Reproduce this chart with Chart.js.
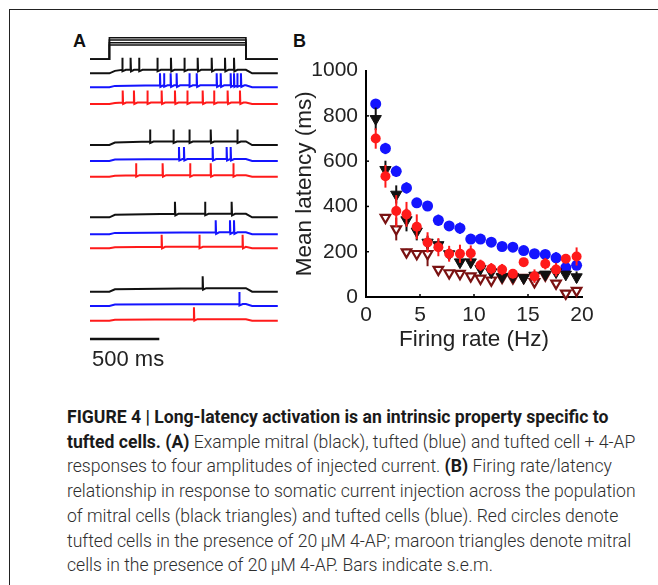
<!DOCTYPE html>
<html>
<head>
<meta charset="utf-8">
<script src="https://cdn.jsdelivr.net/npm/chart.js@4.4.1/dist/chart.umd.min.js"></script>
<style>
    html, body { margin: 0; padding: 0; background: #fff; }
    #fig { position: relative; width: 658px; height: 585px; overflow: hidden; font-family: "Liberation Sans", Arial, sans-serif; }
    .frame-top { position: absolute; left: 9px; top: 9px; right: 0; border-top: 1px solid #222; }
    .frame-left { position: absolute; left: 9px; top: 9px; bottom: 0; border-left: 1px solid #222; }
    .panel-label { position: absolute; font-weight: bold; font-size: 18px; line-height: 1; color: #111; }
    #traces { position: absolute; left: 85px; top: 30px; }
    #latency { position: absolute; left: 280px; top: 50px; }
    #scaleText { position: absolute; left: 92px; top: 348px; font-size: 22px; line-height: 1; color: #222; }
    #caption { position: absolute; left: 67px; top: 405px; font-family: Roboto, sans-serif; font-weight: 300; font-size: 17.6px; line-height: 24.7px; color: #2e2e2e; white-space: nowrap; }
    #caption b { font-weight: 700; color: #1a1a1a; }
</style>
</head>
<body>
<div id="fig">
    <div class="frame-top"></div>
    <div class="frame-left"></div>
    <div class="panel-label" style="left:73px;top:32px;">A</div>
    <div class="panel-label" style="left:293px;top:32px;">B</div>
    <canvas id="traces" width="200" height="320"></canvas>
    <div id="scaleText">500 ms</div>
    <canvas id="latency" width="330" height="310"></canvas>
    <div id="caption">
        <b>FIGURE 4 | Long-latency activation is an intrinsic property specific to</b><br>
        <b>tufted cells. (A)</b> Example mitral (black), tufted (blue) and tufted cell + 4-AP<br>
        responses to four amplitudes of injected current. <b>(B)</b> Firing rate/latency<br>
        relationship in response to somatic current injection across the population<br>
        of mitral cells (black triangles) and tufted cells (blue). Red circles denote<br>
        tufted cells in the presence of 20&thinsp;&mu;M 4-AP; maroon triangles denote mitral<br>
        cells in the presence of 20&thinsp;&mu;M 4-AP. Bars indicate s.e.m.
    </div>
</div>
<script>
// ---- panel A: example traces (times in ms) ----
const traceEnd = 1355;
const stimOn = 140;
const stimOff = 1125;
const scaleBarMs = 500;

// spike times for the four current steps, weakest last
const mitralSpikes = [
    [233, 293, 354, 486, 584, 681, 777, 878, 974, 1039],
    [433, 602, 717, 871, 1063],
    [613, 830, 1022],
    [813]
];
const tuftedSpikes = [
    [505, 534, 582, 625, 717, 770, 914, 943, 1015, 1039, 1063, 1089],
    [642, 678, 885, 986, 1015],
    [907, 1010, 1039],
    [1077]
];
const tuftedApSpikes = [
    [236, 317, 414, 517, 613, 702, 813, 895, 993, 1082],
    [332, 524, 722, 871, 1034],
    [517, 789, 1101],
    [750]
];

// ---- panel B: firing rate vs mean latency ----
const rateHz = [0.9, 1.8, 2.8, 3.75, 4.7, 5.7, 6.7, 7.7, 8.7, 9.7, 10.6, 11.6, 12.6, 13.6, 14.6, 15.6, 16.6, 17.6, 18.5, 19.5];
const tuftedLatency = [853, 656, 555, 482, 416, 402, 339, 314, 304, 256, 256, 242, 223, 220, 205, 191, 188, 173, 130, 140];
const tuftedSem = [20, 25, 25, 25, 20, 20, 25, 20, 25, 20, 20, 15, 15, 20, 20, 12, 15, 25, 15, 15];
const mitralLatency = [787, 562, 453, 340, 290, 241, 230, 190, 154, 154, 125, 110, 90, 90, 84, 95, 100, 110, 100, 88];
const mitralSem = [50, 40, 40, 50, 40, 30, 25, 25, 25, 25, 20, 20, 15, 15, 15, 15, 15, 15, 15, 25];
const tuftedApLatency = [700, 533, 380, 365, 310, 241, 220, 191, 191, 193, 140, 125, 121, 103, 154, 92, 147, 121, 169, 179];
const tuftedApSem = [45, 50, 70, 55, 55, 45, 40, 35, 40, 35, 25, 25, 25, 20, 15, 30, 25, 30, 20, 40];
const mitralApLatency = [null, 351, 300, 198, 191, 191, 121, 106, 103, 92, 82, 74, 86, 84, 86, 67, 96, 60, 16, 28];
const mitralApSem = [0, 15, 50, 15, 15, 55, 15, 10, 10, 10, 10, 10, 10, 10, 10, 15, 10, 15, 5, 5];
const xTicks = [0, 5, 10, 15, 20];
const yTicks = [0, 200, 400, 600, 800, 1000];

// layout for the trace panel (pixels below the canvas top)
const stimBase = 29.3;
const stimTops = [7.7, 10, 12.7, 15];
const rowBase = [[43.3, 57.3, 74], [115, 131, 146.7], [187.3, 204.3, 218.3], [261.7, 276, 290.7]];
const depol = [3.5, 2, 1.5];
const spikeAmp = 12;
const scaleBarY = 309;

const ink = { black: "#111111", blue: "#1414ff", red: "#ff1a1a", maroon: "#7a1212" };

function buildTrace(spikes, baseY, dep) {
    const base = -baseY;
    const top = base + dep;
    const pts = [{ x: 0, y: base }, { x: stimOn, y: base }, { x: stimOn + 40, y: base + dep * 0.7 }];
    spikes.forEach((s, i) => {
        const next = i < spikes.length - 1 ? spikes[i + 1] : stimOff;
        pts.push({ x: s, y: top }, { x: s, y: top + spikeAmp }, { x: s + 3, y: top - 1.5 });
        pts.push({ x: Math.min(s + 25, next - 1), y: top });
    });
    pts.push({ x: stimOff, y: top }, { x: stimOff + 45, y: base }, { x: traceEnd, y: base });
    return pts;
}

const traceSets = [];
stimTops.forEach((t) => {
    traceSets.push({
        data: [
            { x: 0, y: -stimBase }, { x: stimOn, y: -stimBase }, { x: stimOn, y: -t },
            { x: stimOff, y: -t }, { x: stimOff, y: -stimBase }, { x: traceEnd, y: -stimBase }
        ],
        borderColor: ink.black, borderWidth: 1.6
    });
});
[mitralSpikes, tuftedSpikes, tuftedApSpikes].forEach((cell, c) => {
    const color = [ink.black, ink.blue, ink.red][c];
    cell.forEach((spikes, row) => {
        traceSets.push({ data: buildTrace(spikes, rowBase[row][c], depol[c]), borderColor: color, borderWidth: 2 });
    });
});
traceSets.push({ data: [{ x: 0, y: -scaleBarY }, { x: scaleBarMs, y: -scaleBarY }], borderColor: ink.black, borderWidth: 2.5 });

new Chart(document.getElementById("traces"), {
    type: "line",
    data: { datasets: traceSets },
    options: {
        responsive: false,
        animation: false,
        layout: { padding: 0 },
        elements: { point: { radius: 0 }, line: { tension: 0 } },
        plugins: { legend: { display: false }, tooltip: { enabled: false } },
        scales: {
            x: { type: "linear", min: -36, max: 1407, display: false },
            y: { min: -320, max: 0, display: false }
        }
    }
});

// ---- panel B ----
function points(lat, sem) {
    return rateHz.map((x, i) => ({ x, y: lat[i], err: sem[i] })).filter((p) => p.y !== null);
}

const semBars = {
    id: "semBars",
    beforeDatasetDraw(chart, args) {
        const ds = chart.data.datasets[args.index];
        const { x, y } = chart.scales;
        const ctx = chart.ctx;
        ctx.save();
        ctx.strokeStyle = ds.barColor;
        ctx.lineWidth = 2;
        ds.data.forEach((p) => {
            const px = x.getPixelForValue(p.x);
            ctx.beginPath();
            ctx.moveTo(px, y.getPixelForValue(p.y - p.err));
            ctx.lineTo(px, y.getPixelForValue(p.y + p.err));
            ctx.stroke();
        });
        ctx.restore();
    }
};

const innerTicks = {
    id: "innerTicks",
    afterDraw(chart) {
        const { x, y } = chart.scales;
        const ctx = chart.ctx;
        const area = chart.chartArea;
        ctx.save();
        ctx.strokeStyle = "#000";
        ctx.lineWidth = 1.5;
        xTicks.slice(1, -1).forEach((v) => {
            const px = x.getPixelForValue(v);
            ctx.beginPath(); ctx.moveTo(px, area.bottom); ctx.lineTo(px, area.bottom - 3); ctx.stroke();
        });
        yTicks.slice(1, -1).forEach((v) => {
            const py = y.getPixelForValue(v);
            ctx.beginPath(); ctx.moveTo(area.left, py); ctx.lineTo(area.left + 3, py); ctx.stroke();
        });
        ctx.restore();
    }
};

const tickFont = { family: "Liberation Sans", size: 21 };
const titleFont = { family: "Liberation Sans", size: 22.5 };

new Chart(document.getElementById("latency"), {
    type: "scatter",
    data: {
        datasets: [
            {
                label: "tufted", data: points(tuftedLatency, tuftedSem), order: 4,
                pointStyle: "circle", pointRadius: 5.5, backgroundColor: ink.blue, borderColor: ink.blue, borderWidth: 0,
                barColor: ink.blue
            },
            {
                label: "mitral + 4-AP", data: points(mitralApLatency, mitralApSem), order: 3,
                pointStyle: "triangle", pointRotation: 180, pointRadius: 5.5, backgroundColor: "#ffffff", borderColor: ink.maroon, borderWidth: 2.2,
                barColor: ink.maroon
            },
            {
                label: "mitral", data: points(mitralLatency, mitralSem), order: 2,
                pointStyle: "triangle", pointRotation: 180, pointRadius: 6.5, backgroundColor: ink.black, borderColor: ink.black, borderWidth: 1,
                barColor: ink.black
            },
            {
                label: "tufted + 4-AP", data: points(tuftedApLatency, tuftedApSem), order: 1,
                pointStyle: "circle", pointRadius: 5, backgroundColor: ink.red, borderColor: ink.red, borderWidth: 0,
                barColor: ink.red
            }
        ]
    },
    options: {
        responsive: false,
        animation: false,
        clip: false,
        layout: { padding: { top: 18, right: 28, left: 0, bottom: 0 } },
        plugins: { legend: { display: false }, tooltip: { enabled: false } },
        scales: {
            x: {
                type: "linear", min: 0, max: 20,
                afterBuildTicks: (s) => { s.ticks = xTicks.map((v) => ({ value: v })); },
                afterFit: (s) => { s.height = 63; },
                grid: { display: false, drawTicks: false },
                border: { display: true, color: "#000", width: 2 },
                ticks: { color: "#222", font: tickFont, padding: 6, maxRotation: 0, callback: (v) => String(v) },
                title: { display: true, text: "Firing rate (Hz)", color: "#222", font: titleFont, padding: { top: 0, bottom: 6.5 } }
            },
            y: {
                min: 0, max: 1000,
                afterBuildTicks: (s) => { s.ticks = yTicks.map((v) => ({ value: v })); },
                afterFit: (s) => { s.width = 86; },
                grid: { display: false, drawTicks: false },
                border: { display: true, color: "#000", width: 2 },
                ticks: { color: "#222", font: tickFont, padding: 8, callback: (v) => String(v) },
                title: { display: true, text: "Mean latency (ms)", color: "#222", font: titleFont, padding: { top: 11.5, bottom: 0 } }
            }
        }
    },
    plugins: [semBars, innerTicks]
});
</script>
</body>
</html>
